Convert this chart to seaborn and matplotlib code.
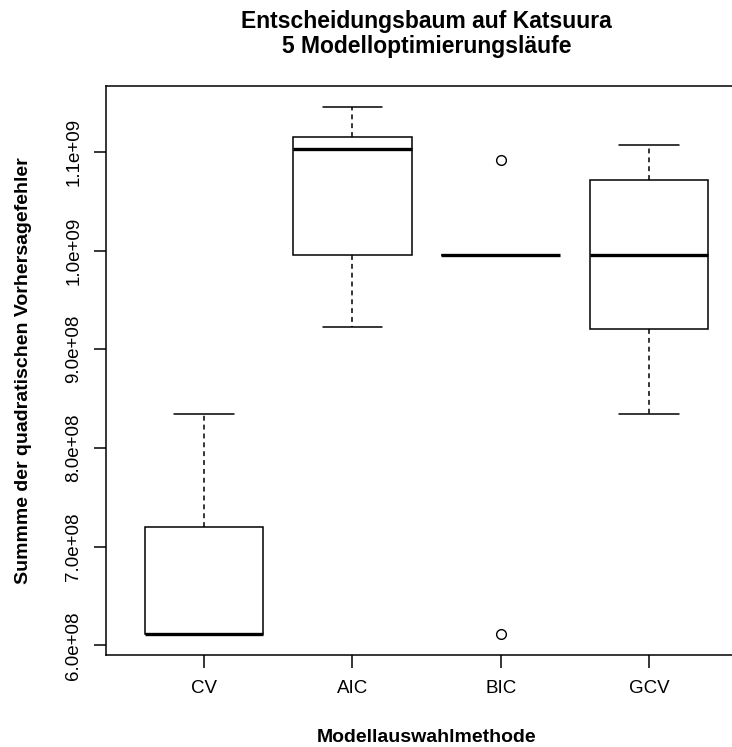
import matplotlib
matplotlib.use("Agg")
import matplotlib.pyplot as plt
import seaborn as sns
import pandas as pd

# ---- data ----
methods = ["CV", "AIC", "BIC", "GCV"]
cv_err = [6.115e8, 6.115e8, 6.115e8, 7.203e8, 8.343e8]
aic_err = [9.225e8, 9.958e8, 1.1025e9, 1.115e9, 1.1454e9]
bic_err = [6.115e8, 9.96e8, 9.96e8, 9.96e8, 1.0914e9]
gcv_err = [8.348e8, 9.209e8, 9.96e8, 1.0718e9, 1.1073e9]
y_ticks = [6.0e8, 7.0e8, 8.0e8, 9.0e8, 1.0e9, 1.1e9]
y_tick_labels = ["6.0e+08", "7.0e+08", "8.0e+08", "9.0e+08", "1.0e+09", "1.1e+09"]

title = "Entscheidungsbaum auf Katsuura\n5 Modelloptimierungsläufe"
x_label = "Modellauswahlmethode"
y_label = "Summme der quadratischen Vorhersagefehler"

series = {"CV": cv_err, "AIC": aic_err, "BIC": bic_err, "GCV": gcv_err}
df = pd.DataFrame(
    [(m, v) for m in methods for v in series[m]], columns=["Methode", "Fehler"]
)

sns.set_style("ticks")
plt.rcParams["font.family"] = ["Liberation Sans", "DejaVu Sans"]
plt.rcParams.update({
    "text.color": "black", "axes.labelcolor": "black",
    "xtick.color": "black", "ytick.color": "black",
    "axes.edgecolor": "black",
})

fig = plt.figure(figsize=(7.32, 7.47), dpi=100)
ax = fig.add_axes([106 / 732, 1 - 655 / 747, 641 / 732, 569 / 747])

sns.boxplot(
    data=df, x="Methode", y="Fehler", order=methods, ax=ax,
    color="white", linecolor="black", linewidth=1.1, width=0.8, whis=1.5,
    fliersize=7,
    flierprops=dict(marker="o", markerfacecolor="none", markeredgecolor="black",
                    markeredgewidth=1.0),
    medianprops=dict(linewidth=2.4, color="black"),
    whiskerprops=dict(linestyle=(0, (3.2, 2.6)), color="black"),
    capprops=dict(linestyle="-", color="black"),
    boxprops=dict(facecolor="white", edgecolor="black"),
)

# R-style axis limits: 4% padding
lo, hi = df["Fehler"].min(), df["Fehler"].max()
pad = 0.04 * (hi - lo)
ax.set_ylim(lo - pad, hi + pad)
ax.set_xlim(-0.66, len(methods) - 1 + 0.66)

ax.set_yticks(y_ticks)
ax.set_yticklabels(y_tick_labels, rotation=90, va="center", fontsize=13.5)
ax.tick_params(axis="x", labelsize=13.5, length=9, width=1.1, pad=9, color="black")
ax.tick_params(axis="y", length=9, width=1.1, pad=8, color="black")

for name, s in ax.spines.items():
    s.set_visible(name != "right")
    s.set_color("black")
    s.set_linewidth(1.1)

ax.set_xlabel(x_label, fontsize=14, fontweight="bold")
ax.set_ylabel(y_label, fontsize=14, fontweight="bold")
ax.xaxis.set_label_coords(0.5, -0.13)
ax.yaxis.set_label_coords(-0.115, 0.5)

ax.set_title(title, fontsize=16.5, fontweight="bold", pad=24, linespacing=1.08,
             color="black")

fig.savefig("out.png", dpi=100)
